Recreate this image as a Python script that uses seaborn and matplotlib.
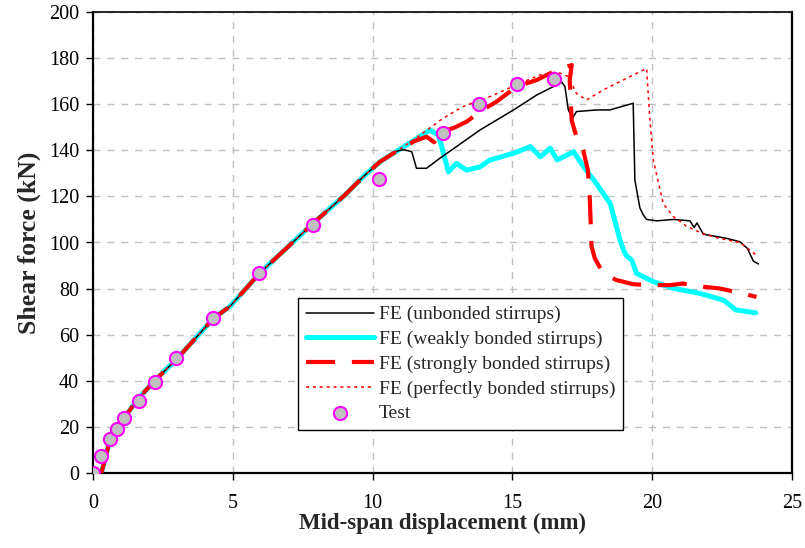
import numpy as np
import pandas as pd
import matplotlib
matplotlib.use("Agg")
import matplotlib.pyplot as plt
import seaborn as sns

# ---------------- data ----------------
rise_x = [0.3, 0.6, 1.0, 1.6, 2.2, 3.0, 4.3, 4.9, 5.97, 7.88, 9.0, 9.67, 10.26, 10.86]
rise_y = [0.0, 14.0, 22.0, 32.0, 40.0, 49.5, 67.0, 72.3, 86.8, 108.4, 120.5, 128.6, 135.0, 139.6]

unb_x = [11.1, 11.4, 11.57, 11.93, 12.41, 13.0, 13.84, 15.04, 15.87, 16.77, 16.88, 17.0, 17.15,
         17.29, 18.0, 18.48, 19.32, 19.38, 19.56, 19.68, 19.8, 20.16, 20.76, 21.35, 21.5, 21.6,
         21.83, 22.66, 23.14, 23.4, 23.62, 23.8]
unb_y = [140.3, 139.4, 132.2, 132.2, 136.6, 141.6, 148.8, 157.5, 164.0, 169.5, 167.6, 157.5, 153.9,
         156.8, 157.5, 157.5, 160.4, 127.1, 115.0, 112.0, 110.0, 109.4, 110.0, 109.4, 106.5, 108.5,
         103.6, 101.8, 100.3, 97.5, 91.9, 90.7]

weak_x = [11.5, 12.05, 12.35, 12.47, 12.71, 13.0, 13.36, 13.84, 14.2, 15.04, 15.64, 16.0, 16.35,
          16.6, 17.19, 17.55, 18.0, 18.5, 18.85, 19.0, 19.1, 19.27, 19.44, 20.04, 20.76, 21.71,
          22.55, 23.0, 23.7]
weak_y = [144.5, 148.8, 146.6, 141.6, 130.7, 134.3, 131.4, 132.8, 135.8, 138.7, 141.6, 137.2, 140.9,
          135.8, 139.4, 132.8, 125.6, 116.9, 101.0, 96.0, 94.0, 92.3, 86.6, 83.0, 80.1, 77.9,
          75.0, 70.7, 69.5]

strong_x = [11.5, 11.93, 12.2, 12.47, 12.9, 13.36, 13.84, 14.43, 15.15, 15.87, 16.47, 17.12, 17.05,
            17.12, 17.29, 17.53, 17.7, 17.77, 17.83, 17.95, 18.25, 18.72, 19.32, 19.91, 20.63,
            21.1, 21.83, 22.4, 23.14, 23.73]
strong_y = [144.0, 145.9, 143.5, 148.1, 149.7, 152.4, 156.8, 161.1, 167.6, 170.5, 174.1, 177.0, 170.5,
            153.0, 145.9, 140.1, 131.4, 118.4, 98.3, 93.1, 86.6, 83.7, 81.9, 81.5, 81.5,
            82.2, 80.8, 80.1, 78.1, 76.4]

perf_x = [11.45, 12.52, 13.24, 14.2, 15.27, 15.99, 16.6, 17.0, 17.29, 17.65, 18.25, 19.08, 19.68,
          19.8, 19.91, 20.04, 20.39, 20.75, 21.23, 21.83, 22.4, 23.14, 23.37, 23.73]
perf_y = [144.4, 153.9, 159.0, 163.3, 169.1, 172.7, 174.0, 172.0, 164.7, 161.8, 166.2, 171.2, 174.8,
          175.5, 154.6, 135.8, 117.0, 111.3, 107.0, 103.8, 101.8, 100.0, 97.8, 94.4]

test_x = [0.0, 0.29, 0.6, 0.86, 1.1, 1.65, 2.2, 2.97, 4.3, 5.94, 7.87, 10.23, 12.5, 13.8, 15.16, 16.5]
test_y = [0.0, 7.4, 14.8, 19.0, 23.9, 31.2, 39.5, 49.9, 67.2, 86.8, 107.6, 127.5, 147.5, 160.0, 168.8, 171.0]

labels = ["FE (unbonded stirrups)", "FE (weakly bonded stirrups)",
          "FE (strongly bonded stirrups)", "FE (perfectly bonded stirrups)", "Test"]

# ---------------- styling ----------------
sns.set_style("white")
plt.rcParams['font.family'] = ['Liberation Serif', 'DejaVu Serif']

fig = plt.figure(figsize=(8.05, 5.48), dpi=100)
ax = fig.add_axes([93/805, 1-473/548, (792-93)/805, (473-12)/548])

def series(xs, ys):
    return pd.DataFrame({"x": rise_x + xs, "y": rise_y + ys})

d_weak = series(weak_x, weak_y)
d_unb = series(unb_x, unb_y)
d_strong = series(strong_x, strong_y)
d_perf = series(perf_x, perf_y)
d_test = pd.DataFrame({"x": test_x, "y": test_y})

sns.lineplot(data=d_weak, x="x", y="y", sort=False, estimator=None, ax=ax,
             color="#00ffff", linewidth=3.6, label=labels[1], zorder=2)
sns.lineplot(data=d_unb, x="x", y="y", sort=False, estimator=None, ax=ax,
             color="black", linewidth=1.1, label=labels[0], zorder=3)
sns.lineplot(data=d_strong, x="x", y="y", sort=False, estimator=None, ax=ax,
             color="#ff0000", linewidth=3.0, label=labels[2], zorder=4)
sns.lineplot(data=d_perf, x="x", y="y", sort=False, estimator=None, ax=ax,
             color="#ff0000", linewidth=1.1, label=labels[3], zorder=5)
ax.lines[2].set_dashes([7, 4])
ax.lines[3].set_dashes([2, 2.5])
sns.scatterplot(data=d_test, x="x", y="y", ax=ax, s=90, color="#c0c0c0",
                edgecolor="#ff00ff", linewidth=1.5, label=labels[4], zorder=6)

ax.set_xlim(0, 25)
ax.set_ylim(0, 200)
ax.set_xticks(np.arange(0, 26, 5))
ax.set_yticks(np.arange(0, 201, 20))
ax.grid(True, color="#c0c0c0", linestyle=(0, (5, 5)), linewidth=1.0)
ax.set_axisbelow(True)
for side in ["left", "bottom", "right"]:
    ax.spines[side].set_color("black")
    ax.spines[side].set_linewidth(1.6)
ax.spines["top"].set_color("black")
ax.spines["top"].set_linewidth(1.2)
ax.tick_params(axis="both", which="major", direction="out", length=5, width=1,
               color="black", labelsize=14.5, labelcolor="black", left=True, bottom=True)
ax.tick_params(axis="x", pad=10)
ax.tick_params(axis="y", pad=5)
ax.set_xlabel("Mid-span displacement (mm)", fontsize=16.5, fontweight="bold", labelpad=0)
ax.set_ylabel("Shear force (kN)", fontsize=18.5, fontweight="bold", labelpad=6)

handles, labs = ax.get_legend_handles_labels()
order = [labs.index(l) for l in labels]
leg = ax.legend([handles[i] for i in order], [labs[i] for i in order],
                loc="upper left", bbox_to_anchor=((298-93)/699, (473-298)/461),
                fontsize=14, frameon=True, fancybox=False, framealpha=1,
                edgecolor="black", handlelength=3.5, borderpad=0.4,
                labelspacing=0.36, handletextpad=0.25, borderaxespad=0)
leg.get_frame().set_linewidth(1.0)

fig.savefig("out.png", dpi=100)
